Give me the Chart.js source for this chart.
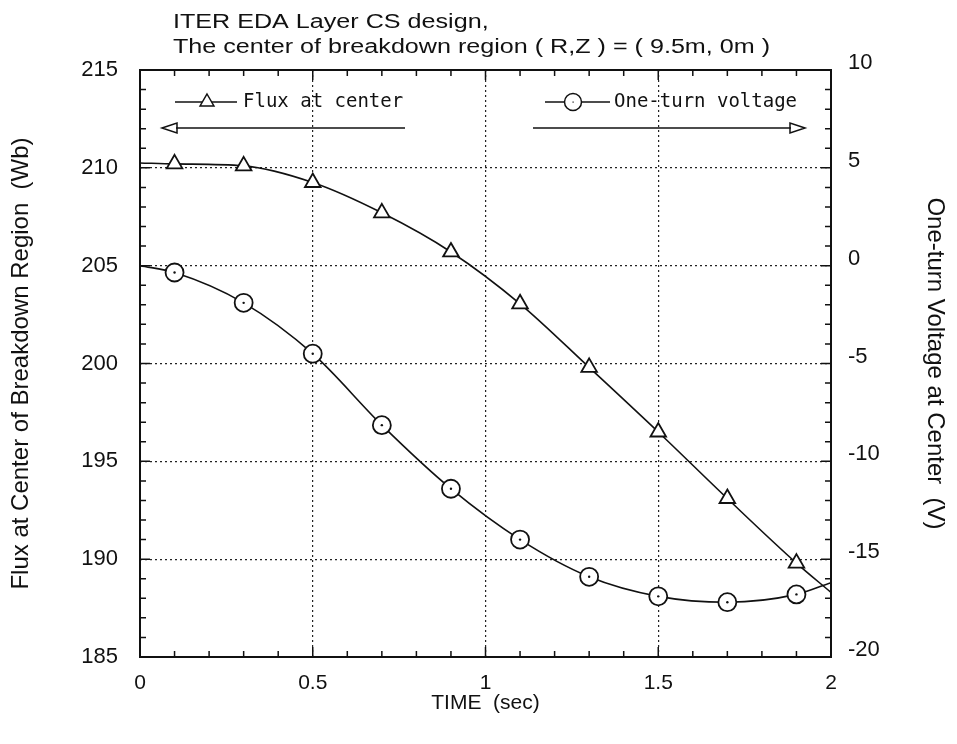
<!DOCTYPE html>
<html>
<head>
<meta charset="utf-8">
<script src="https://cdn.jsdelivr.net/npm/chart.js@4.4.0/dist/chart.umd.min.js"></script>
<style>
  html, body { margin: 0; padding: 0; background: #fff; }
</style>
</head>
<body>
<canvas id="chart" width="957" height="744"></canvas>
<script>
// values (t = 0 and t = 2 are curve ends, no marker)
const times = [0, 0.1, 0.3, 0.5, 0.7, 0.9, 1.1, 1.3, 1.5, 1.7, 1.9, 2.0];
const flux = [210.25, 210.2, 210.1, 209.25, 207.7, 205.7, 203.05, 199.8, 196.5, 193.1, 189.8, 188.3];
const voltage = [0, -0.35, -1.9, -4.5, -8.15, -11.4, -14.0, -15.9, -16.9, -17.2, -16.8, -16.2];
const titleLines = ['ITER EDA Layer CS design,', 'The center of breakdown region ( R,Z ) = ( 9.5m, 0m )'];
const fluxLabel = 'Flux at center';
const voltLabel = 'One-turn voltage';

const INK = '#111';
const SANS = '"Liberation Sans", Arial, sans-serif';
const MONO = '"DejaVu Sans Mono", monospace';

const pts = (ys) => times.map((t, i) => ({ x: t, y: ys[i] }));
const markerRadius = (r) => (ctx) => (ctx.dataIndex === 0 || ctx.dataIndex === times.length - 1) ? 0 : r;
const edgeless = (lo, hi) => (ctx) => (ctx.tick && (ctx.tick.value === lo || ctx.tick.value === hi)) ? 'rgba(0,0,0,0)' : '#222';

const decorations = {
  id: 'decorations',
  afterDraw(chart) {
    const { ctx, chartArea: ca, scales } = chart;
    const xs = scales.x, yl = scales.yFlux;
    ctx.save();
    ctx.strokeStyle = INK;
    ctx.fillStyle = INK;

    // frame
    ctx.lineWidth = 2;
    ctx.strokeRect(ca.left, ca.top, ca.right - ca.left, ca.bottom - ca.top);

    // inner ticks
    ctx.lineWidth = 1.5;
    ctx.beginPath();
    for (let v = 185; v <= 215; v++) {
      const y = yl.getPixelForValue(v);
      const len = v % 5 === 0 ? 10 : 6;
      ctx.moveTo(ca.left, y); ctx.lineTo(ca.left + len, y);
      ctx.moveTo(ca.right, y); ctx.lineTo(ca.right - len, y);
    }
    for (let i = 0; i <= 20; i++) {
      const x = xs.getPixelForValue(i / 10);
      const len = i % 5 === 0 ? 10 : 6;
      ctx.moveTo(x, ca.bottom); ctx.lineTo(x, ca.bottom - len);
      ctx.moveTo(x, ca.top); ctx.lineTo(x, ca.top + len);
    }
    ctx.stroke();

    // title, squeezed like the narrow face of the original
    ctx.font = '20px ' + SANS;
    ctx.textBaseline = 'middle';
    ctx.textAlign = 'left';
    const sx = 597 / ctx.measureText(titleLines[1]).width;
    titleLines.forEach((line, i) => {
      ctx.save();
      ctx.translate(173, 22 + i * 25);
      ctx.scale(sx, 1);
      ctx.fillText(line, 0, 0);
      ctx.restore();
    });

    // legend: flux
    ctx.lineWidth = 1.5;
    ctx.beginPath();
    ctx.moveTo(175, 102); ctx.lineTo(237, 102);
    ctx.stroke();
    ctx.save();
    ctx.fillStyle = '#fff';
    ctx.beginPath();
    const r = 8;
    ctx.moveTo(207, 102 - r);
    ctx.lineTo(207 + r * 0.866, 102 + r / 2);
    ctx.lineTo(207 - r * 0.866, 102 + r / 2);
    ctx.closePath();
    ctx.fill(); ctx.stroke();
    ctx.restore();
    ctx.font = '19px ' + MONO;
    ctx.fillText(fluxLabel, 243, 102);

    // arrow pointing at left axis
    ctx.beginPath();
    ctx.moveTo(176, 128); ctx.lineTo(405, 128);
    ctx.stroke();
    ctx.beginPath();
    ctx.moveTo(162, 128); ctx.lineTo(177, 123); ctx.lineTo(177, 133); ctx.closePath();
    ctx.stroke();

    // legend: voltage
    ctx.beginPath();
    ctx.moveTo(545, 102); ctx.lineTo(610, 102);
    ctx.stroke();
    ctx.save();
    ctx.fillStyle = '#fff';
    ctx.beginPath();
    ctx.arc(573, 102, 8.5, 0, Math.PI * 2);
    ctx.fill(); ctx.stroke();
    ctx.restore();
    ctx.fillRect(572.5, 101.5, 1.2, 1.2);
    ctx.fillText(voltLabel, 614, 102);

    // arrow pointing at right axis
    ctx.beginPath();
    ctx.moveTo(533, 128); ctx.lineTo(791, 128);
    ctx.stroke();
    ctx.beginPath();
    ctx.moveTo(805, 128); ctx.lineTo(790, 123); ctx.lineTo(790, 133); ctx.closePath();
    ctx.stroke();

    ctx.restore();
  }
};

new Chart(document.getElementById('chart').getContext('2d'), {
  type: 'line',
  data: {
    datasets: [
      {
        label: 'centres',
        data: pts(voltage),
        yAxisID: 'yVolt',
        showLine: false,
        pointRadius: markerRadius(1.2),
        pointBackgroundColor: INK,
        pointBorderWidth: 0,
        order: 0,
      },
      {
        label: fluxLabel,
        data: pts(flux),
        yAxisID: 'yFlux',
        borderColor: INK,
        borderWidth: 1.6,
        cubicInterpolationMode: 'monotone',
        pointStyle: 'triangle',
        pointRadius: markerRadius(9),
        pointBorderWidth: 1.8,
        pointBorderColor: INK,
        pointBackgroundColor: '#fff',
        order: 2,
      },
      {
        label: voltLabel,
        data: pts(voltage),
        yAxisID: 'yVolt',
        borderColor: INK,
        borderWidth: 1.6,
        cubicInterpolationMode: 'monotone',
        pointStyle: 'circle',
        pointRadius: markerRadius(9),
        pointBorderWidth: 1.8,
        pointBorderColor: INK,
        pointBackgroundColor: '#fff',
        order: 1,
      },
    ],
  },
  options: {
    responsive: false,
    animation: false,
    devicePixelRatio: 1,
    layout: { padding: { top: 70, left: 0, right: 0, bottom: 0 } },
    plugins: { legend: { display: false }, tooltip: { enabled: false } },
    scales: {
      x: {
        type: 'linear',
        min: 0, max: 2,
        ticks: { stepSize: 0.5, padding: 14, color: INK, font: { family: SANS, size: 21 }, callback: (v) => String(v) },
        grid: { color: edgeless(0, 2), lineWidth: 1.2, drawTicks: false },
        border: { display: false, dash: [2, 3] },
        title: { display: true, text: 'TIME  (sec)', color: INK, font: { family: SANS, size: 21 }, padding: { top: 0, bottom: 28 } },
        afterFit: (s) => { s.height = 87; },
      },
      yFlux: {
        position: 'left',
        min: 185, max: 215,
        ticks: { stepSize: 5, padding: 22, color: INK, font: { family: SANS, size: 22 } },
        grid: { color: edgeless(185, 215), lineWidth: 1.2, drawTicks: false },
        border: { display: false, dash: [2, 3] },
        title: { display: true, text: 'Flux at Center of Breakdown Region  (Wb)', color: INK, font: { family: SANS, size: 24 }, padding: { top: 7, bottom: 0 } },
        afterFit: (s) => { s.width = 140; },
      },
      yVolt: {
        position: 'right',
        min: -20, max: 10,
        ticks: { stepSize: 5, padding: 17, labelOffset: -7, color: INK, font: { family: SANS, size: 22 } },
        grid: { display: false, drawTicks: false },
        border: { display: false },
        title: { display: true, text: 'One-turn Voltage at Center  (V)', color: INK, font: { family: SANS, size: 24 }, padding: { top: 8, bottom: 0 } },
        afterFit: (s) => { s.width = 126; },
      },
    },
  },
  plugins: [decorations],
});
</script>
</body>
</html>
